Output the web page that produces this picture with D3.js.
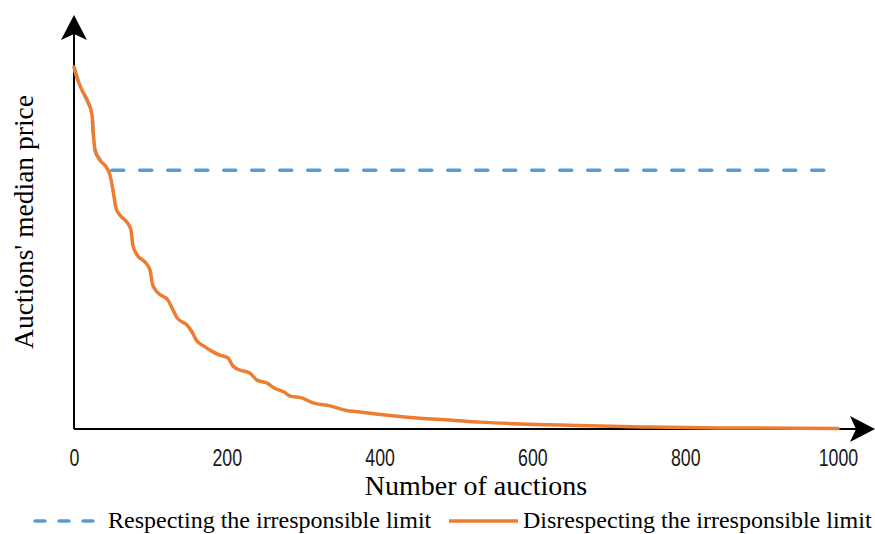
<!DOCTYPE html>
<html><head><meta charset="utf-8">
<script src="https://cdn.jsdelivr.net/npm/d3@7"></script>
<style>body{margin:0;background:#fff}svg{display:block}</style>
</head><body>
<svg id="c" width="875" height="534"></svg>
<script>
const xTicks = [0, 200, 400, 600, 800, 1000];
const seriesNames = ["Respecting the irresponsible limit", "Disrespecting the irresponsible limit"];
const respectX = [0, 5, 10.5, 17, 23.6, 24.9, 27.5, 34, 43, 48, 988];
const respectY = [100, 96.4, 93.6, 90.9, 86.7, 82.6, 77.1, 74.3, 72.1, 71.5, 71.5];
const disrespectX = [0, 5, 10.5, 17, 23.6, 24.9, 27.5, 34, 43, 47, 51, 55, 60, 69, 74.6, 77, 82.5, 93, 99.5, 103, 110, 123, 129.6, 135, 148, 154.5, 160, 171.5, 182, 191, 201.6, 208, 217, 230, 239.5, 252.6, 262, 275, 283, 298, 313, 335, 355, 374, 398, 420, 453, 492, 531, 584, 636, 688, 754, 845, 1000];
const disrespectY = [100, 96.4, 93.6, 90.9, 86.7, 82.6, 77.1, 74.3, 72.1, 70.2, 66, 61, 59.1, 57.2, 55, 50.8, 48.1, 46.1, 43.9, 39.8, 37.6, 35.6, 32.9, 30.7, 28.7, 26.8, 24.6, 22.7, 21.3, 20.4, 19.6, 17.4, 16.3, 15.5, 13.5, 12.7, 11.3, 10.2, 9.1, 8.6, 7.2, 6.4, 5.2, 4.7, 4.1, 3.6, 3.0, 2.5, 1.9, 1.4, 1.1, 0.8, 0.55, 0.3, 0.15];

const svg = d3.select("#c");
const x = d3.scaleLinear().domain([0, 1000]).range([74, 838]);
const y = d3.scaleLinear().domain([0, 100]).range([429, 67]);
const blue = "#5b9bd5", orange = "#ed7d31";

// axes
const xAxis = svg.append("g").attr("transform", "translate(0,429)")
  .call(d3.axisBottom(x).tickValues(xTicks).tickSize(0).tickPadding(20).tickFormat(d3.format("d")));
xAxis.select(".domain").remove();
xAxis.selectAll("text").attr("font-family", "'Liberation Sans',Arial,sans-serif")
  .attr("font-size", 24).attr("fill", "#1a1a1a").attr("transform", "scale(0.74,1)");

svg.append("line").attr("x1", 74).attr("x2", 860).attr("y1", 429).attr("y2", 429).attr("stroke", "#000").attr("stroke-width", 2);
svg.append("line").attr("x1", 74).attr("x2", 74).attr("y1", 30).attr("y2", 429).attr("stroke", "#000").attr("stroke-width", 2);
// arrowheads
svg.append("path").attr("d", "M74,15 L87,40 L74,34 L61,40 Z").attr("fill", "#000");
svg.append("path").attr("d", "M875,429 L850,442 L856,429 L850,416 Z").attr("fill", "#000");

const line = d3.line().x(d => x(d[0])).y(d => y(d[1])).curve(d3.curveMonotoneX);
const respect = respectX.map((v, i) => [v, respectY[i]]);
const disrespect = disrespectX.map((v, i) => [v, disrespectY[i]]);

svg.append("path").datum(respect).attr("d", line).attr("fill", "none").attr("stroke", blue)
  .attr("stroke-width", 3.5).attr("stroke-dasharray", "12,16").attr("stroke-dashoffset", -2).attr("stroke-linecap", "round");
svg.append("path").datum(disrespect).attr("d", line).attr("fill", "none").attr("stroke", orange)
  .attr("stroke-width", 3.5).attr("stroke-linejoin", "round").attr("stroke-linecap", "round");

// titles
const serif = "'Liberation Serif','Times New Roman',serif";
svg.append("text").attr("x", 476).attr("y", 495).attr("text-anchor", "middle")
  .attr("font-family", serif).attr("font-size", 28).text("Number of auctions");
svg.append("text").attr("transform", "translate(33,222) rotate(-90)").attr("text-anchor", "middle")
  .attr("font-family", serif).attr("font-size", 27.5).text("Auctions' median price");

// legend
const leg = svg.append("g");
leg.append("line").attr("x1", 35).attr("x2", 103).attr("y1", 521).attr("y2", 521).attr("stroke", blue)
  .attr("stroke-width", 3.5).attr("stroke-dasharray", "10,14").attr("stroke-linecap", "round");
leg.append("text").attr("x", 108).attr("y", 528).attr("font-family", serif).attr("font-size", 24).text(seriesNames[0]);
leg.append("line").attr("x1", 449).attr("x2", 518).attr("y1", 521).attr("y2", 521).attr("stroke", orange)
  .attr("stroke-width", 3.5);
leg.append("text").attr("x", 523).attr("y", 528).attr("font-family", serif).attr("font-size", 24).text(seriesNames[1]);
</script>
</body></html>
